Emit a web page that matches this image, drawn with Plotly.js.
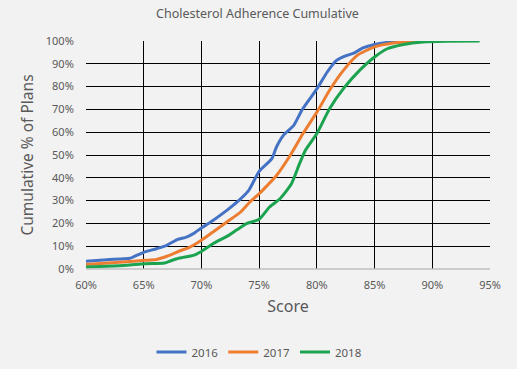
<!DOCTYPE html>
<html>
<head>
<meta charset="utf-8">
<script src="https://cdn.plot.ly/plotly-3.0.1.min.js"></script>
<style>html,body{margin:0;padding:0;background:#f2f2f2;}#chart{width:517px;height:369px;}</style>
</head>
<body>
<div id="chart"></div>
<script>
const seriesNames = ["2016", "2017", "2018"];
const seriesColors = ["#4472C4", "#ED7D31", "#1BA350"];

const score2016 = [60, 61.8, 63.8, 64.1, 65.1, 66.1, 67, 67.9, 68.7, 69.3, 70, 71, 72.2, 73.1, 74.1, 75, 76.1, 76.5, 77.1, 78, 78.7, 79.4, 80.1, 80.9, 81.7, 82.6, 83.2, 84, 85, 86.1, 87.2, 87.6];
const cum2016   = [3.4, 4.1, 4.7, 5.3, 7.5, 8.9, 10.4, 12.9, 14, 15.5, 18, 21.3, 25.7, 29.4, 34.5, 42.8, 48.4, 53.5, 58.6, 63, 69.6, 74.7, 79.8, 86.4, 91.5, 93.7, 94.7, 97, 98.5, 99.4, 99.9, 100];

const score2017 = [60, 63.2, 65.1, 66.1, 67, 68.1, 69, 70, 71, 72.2, 73.4, 74.2, 75, 76, 76.5, 77.7, 78.8, 80.1, 81.1, 82.3, 83.5, 85, 86.6, 88.1, 88.9];
const cum2017   = [2, 3.1, 3.8, 4.2, 5.6, 7.9, 9.6, 12.6, 16.2, 20.6, 25, 29.4, 33, 38.2, 41, 49.9, 59.4, 69.6, 78.4, 87.1, 93.7, 97.4, 99.1, 99.7, 99.9];

const score2018 = [60, 61.8, 63.5, 65.1, 66.8, 67.3, 68.1, 69.3, 70, 71, 72.2, 73.1, 73.9, 75, 75.9, 76.8, 77.8, 78.5, 79, 80, 81.1, 82.3, 83.7, 85, 86.1, 87.5, 89.2, 91.3, 94.1];
const cum2018   = [0.9, 1.2, 1.6, 2.3, 2.6, 3.5, 4.8, 6, 7.7, 11.1, 14.3, 17.3, 19.9, 21.8, 27.2, 30.8, 37.4, 46.2, 52, 59.4, 70.3, 79.1, 87.1, 93, 96.6, 98.5, 99.6, 99.9, 100];

const xTicks = [60, 65, 70, 75, 80, 85, 90, 95];
const yTicks = [0, 10, 20, 30, 40, 50, 60, 70, 80, 90, 100];

const xs = [score2016, score2017, score2018];
const ys = [cum2016, cum2017, cum2018];

const font = "'Noto Sans', 'Open Sans', sans-serif";
const traces = seriesNames.map((n, i) => ({
  type: 'scatter', mode: 'lines', name: n,
  x: xs[i], y: ys[i],
  line: {color: seriesColors[i], width: 3, shape: 'spline', smoothing: 0.6}
}));

const layout = {
  width: 517, height: 369,
  paper_bgcolor: '#f2f2f2', plot_bgcolor: '#f2f2f2',
  margin: {l: 86, r: 27, t: 41, b: 100, pad: 0},
  font: {family: font, color: '#595959', size: 11},
  title: {text: 'Cholesterol Adherence Cumulative', font: {size: 12.5, color: '#595959', family: font}, x: 257.5/517, xanchor: 'center', xref: 'container', y: 1 - 14/369, yanchor: 'middle', yref: 'container'},
  xaxis: {
    range: [60, 95], tickvals: xTicks, ticktext: xTicks.map(v => v + '%'),
    showgrid: true, gridcolor: '#000000', gridwidth: 1,
    zeroline: false, showline: false, ticks: 'outside', ticklen: 6, tickcolor: 'rgba(0,0,0,0)',
    tickfont: {size: 11, color: '#595959'},
    title: {text: 'Score', font: {size: 16, color: '#595959'}, standoff: 9}
  },
  yaxis: {
    range: [0, 100], tickvals: yTicks, ticktext: yTicks.map(v => v + '%'),
    showgrid: true, gridcolor: '#000000', gridwidth: 1,
    zeroline: false, showline: false, ticks: 'outside', ticklen: 9, tickcolor: 'rgba(0,0,0,0)',
    tickfont: {size: 11, color: '#595959'},
    title: {text: 'Cumulative % of Plans', font: {size: 15.5, color: '#595959'}, standoff: 8}
  },
  shapes: [{type: 'line', xref: 'paper', yref: 'paper', x0: 0, x1: 1, y0: 0, y1: 0, line: {color: '#bfbfbf', width: 1.5}}],
  showlegend: true,
  legend: {orientation: 'h', xref: 'container', yref: 'container', x: 259/517, xanchor: 'center', y: 1 - 352/369, yanchor: 'middle',
    bgcolor: 'rgba(0,0,0,0)', font: {size: 11.5, color: '#595959'}, itemwidth: 30, tracegroupgap: 0}
};

Plotly.newPlot('chart', traces, layout, {displayModeBar: false, staticPlot: true});
</script>
</body>
</html>
